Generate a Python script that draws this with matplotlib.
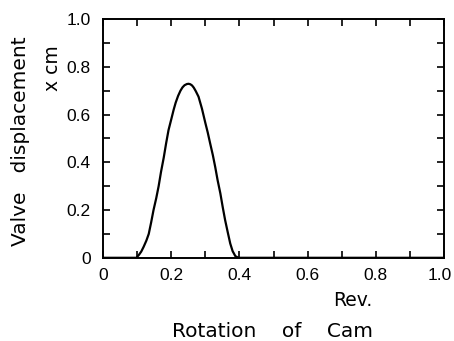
import matplotlib
matplotlib.use("Agg")
import matplotlib.pyplot as plt
from matplotlib.ticker import MultipleLocator, FuncFormatter
from matplotlib.transforms import ScaledTranslation

# Data (rotation of cam in rev., valve displacement)
rotation = [0.0, 0.098, 0.105, 0.112, 0.119, 0.127, 0.134, 0.141, 0.148, 0.156, 0.163,
            0.170, 0.178, 0.185, 0.192, 0.200, 0.207, 0.213, 0.220, 0.227, 0.233,
            0.239, 0.246, 0.251, 0.256, 0.261, 0.266, 0.272, 0.280, 0.290, 0.300,
            0.307, 0.314, 0.322, 0.329, 0.336, 0.344, 0.351, 0.358, 0.366, 0.373,
            0.380, 0.388, 0.397, 1.0]
displacement = [0.0, 0.0, 0.012, 0.026, 0.046, 0.072, 0.10, 0.148, 0.20, 0.25, 0.30,
                0.36, 0.42, 0.48, 0.535, 0.58, 0.62, 0.650, 0.678, 0.700, 0.714,
                0.723, 0.728, 0.729, 0.727, 0.722, 0.713, 0.698, 0.675, 0.625, 0.565,
                0.525, 0.48, 0.43, 0.38, 0.325, 0.27, 0.212, 0.158, 0.105, 0.06,
                0.028, 0.007, 0.0, 0.0]

x_ticks_labeled = [0, 0.2, 0.4, 0.6, 0.8, 1.0]
y_ticks_labeled = [0, 0.2, 0.4, 0.6, 0.8, 1.0]

plt.rcParams['font.family'] = ['DejaVu Sans']

fig = plt.figure(figsize=(4.54, 3.41), dpi=100)
ax = fig.add_axes([0.227, 0.244, 0.751, 0.700])

ax.plot(rotation, displacement, color='black', linewidth=1.6)

ax.set_xlim(0, 1.0)
ax.set_ylim(0, 1.0)

fmt = FuncFormatter(lambda v, p: '0' if abs(v) < 1e-9 else f'{v:.1f}')
ax.set_xticks(x_ticks_labeled)
ax.set_yticks(y_ticks_labeled)
ax.xaxis.set_minor_locator(MultipleLocator(0.1))
ax.yaxis.set_minor_locator(MultipleLocator(0.1))
ax.xaxis.set_major_formatter(fmt)
ax.yaxis.set_major_formatter(fmt)

ax.tick_params(which='both', direction='in', top=True, right=True,
               length=5, width=1.2, labelsize=12.5)
ax.tick_params(axis='x', pad=7)
ax.tick_params(axis='y', pad=9)
for lbl in ax.get_xticklabels() + ax.get_yticklabels():
    lbl.set_family('Liberation Sans')
last = ax.xaxis.get_major_ticks()[-1].label1
last.set_transform(last.get_transform() + ScaledTranslation(-4 / 100, 0, fig.dpi_scale_trans))
for s in ax.spines.values():
    s.set_linewidth(1.4)

fig.text(0.045, 0.585, 'Valve   displacement', rotation=90, ha='center', va='center',
         fontsize=14.5)
fig.text(0.115, 0.80, 'x cm', rotation=90, ha='center', va='center', fontsize=13.5)
fig.text(0.778, 0.118, 'Rev.', ha='center', va='center', fontsize=13.5)
fig.text(0.60, 0.027, 'Rotation    of    Cam', ha='center', va='center', fontsize=14.5)

fig.savefig('out.png', dpi=100)
